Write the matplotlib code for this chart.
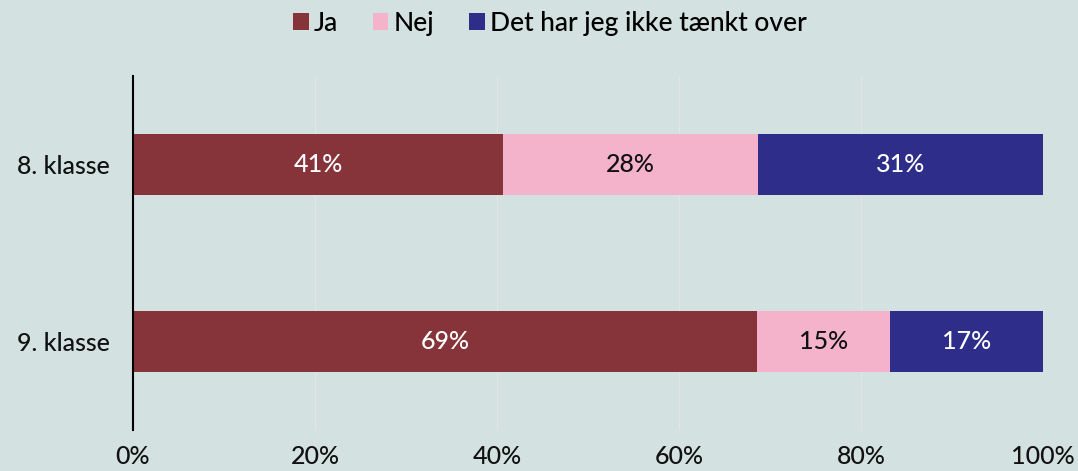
import matplotlib.pyplot as plt
from matplotlib.patches import Patch

classes = ["8. klasse", "9. klasse"]
series = ["Ja", "Nej", "Det har jeg ikke tænkt over"]
ja = [40.7, 68.6]
nej = [28.0, 14.6]
ved_ikke = [31.3, 16.8]
xticks = [0, 20, 40, 60, 80, 100]

colors = ["#86343a", "#f4b3cb", "#2e2e8a"]
text_colors = ["white", "#111111", "white"]
bg = "#d3e1e0"

plt.rcParams["font.family"] = ["Lato", "DejaVu Sans"]

fig = plt.figure(figsize=(10.78, 4.71), dpi=100, facecolor=bg)
ax = fig.add_axes([0.1234, 0.087, 0.8442, 0.7516], facecolor=bg)

left = [0.0] * len(classes)
for vals, col, tcol in zip([ja, nej, ved_ikke], colors, text_colors):
    ax.barh(range(len(classes)), vals, left=left, height=0.35, color=col, zorder=3)
    for i, v in enumerate(vals):
        ax.text(left[i] + v / 2, i, f"{v:.0f}%", ha="center", va="center",
                color=tcol, fontsize=18, fontweight="medium", zorder=4)
    left = [l + v for l, v in zip(left, vals)]

ax.set_xlim(0, 100)
ax.set_ylim(1.5, -0.5)
ax.set_yticks(range(len(classes)))
ax.set_yticklabels(classes, fontsize=18, fontweight="medium", color="#111111")
ax.set_xticks(xticks)
ax.set_xticklabels([f"{t}%" for t in xticks], fontsize=18, fontweight="medium",
                   color="#111111")
ax.tick_params(axis="x", length=0, pad=11)
ax.tick_params(axis="y", length=0, pad=17)
ax.xaxis.grid(True, color="#e2e6e3", linewidth=1, zorder=0)
for s in ["top", "right", "bottom"]:
    ax.spines[s].set_visible(False)
ax.spines["left"].set_color("black")
ax.spines["left"].set_linewidth(1.5)
ax.spines["left"].set_zorder(5)

handles = [Patch(facecolor=c, edgecolor="none") for c in colors]
fig.legend(handles, series, loc="center", bbox_to_anchor=(0.51, 0.95), ncol=3,
           frameon=False, handlelength=0.6, handleheight=0.6,
           handletextpad=0.2, columnspacing=1.3, prop={"size": 19, "weight": "medium"})

fig.savefig("out.png", dpi=100, facecolor=bg)
